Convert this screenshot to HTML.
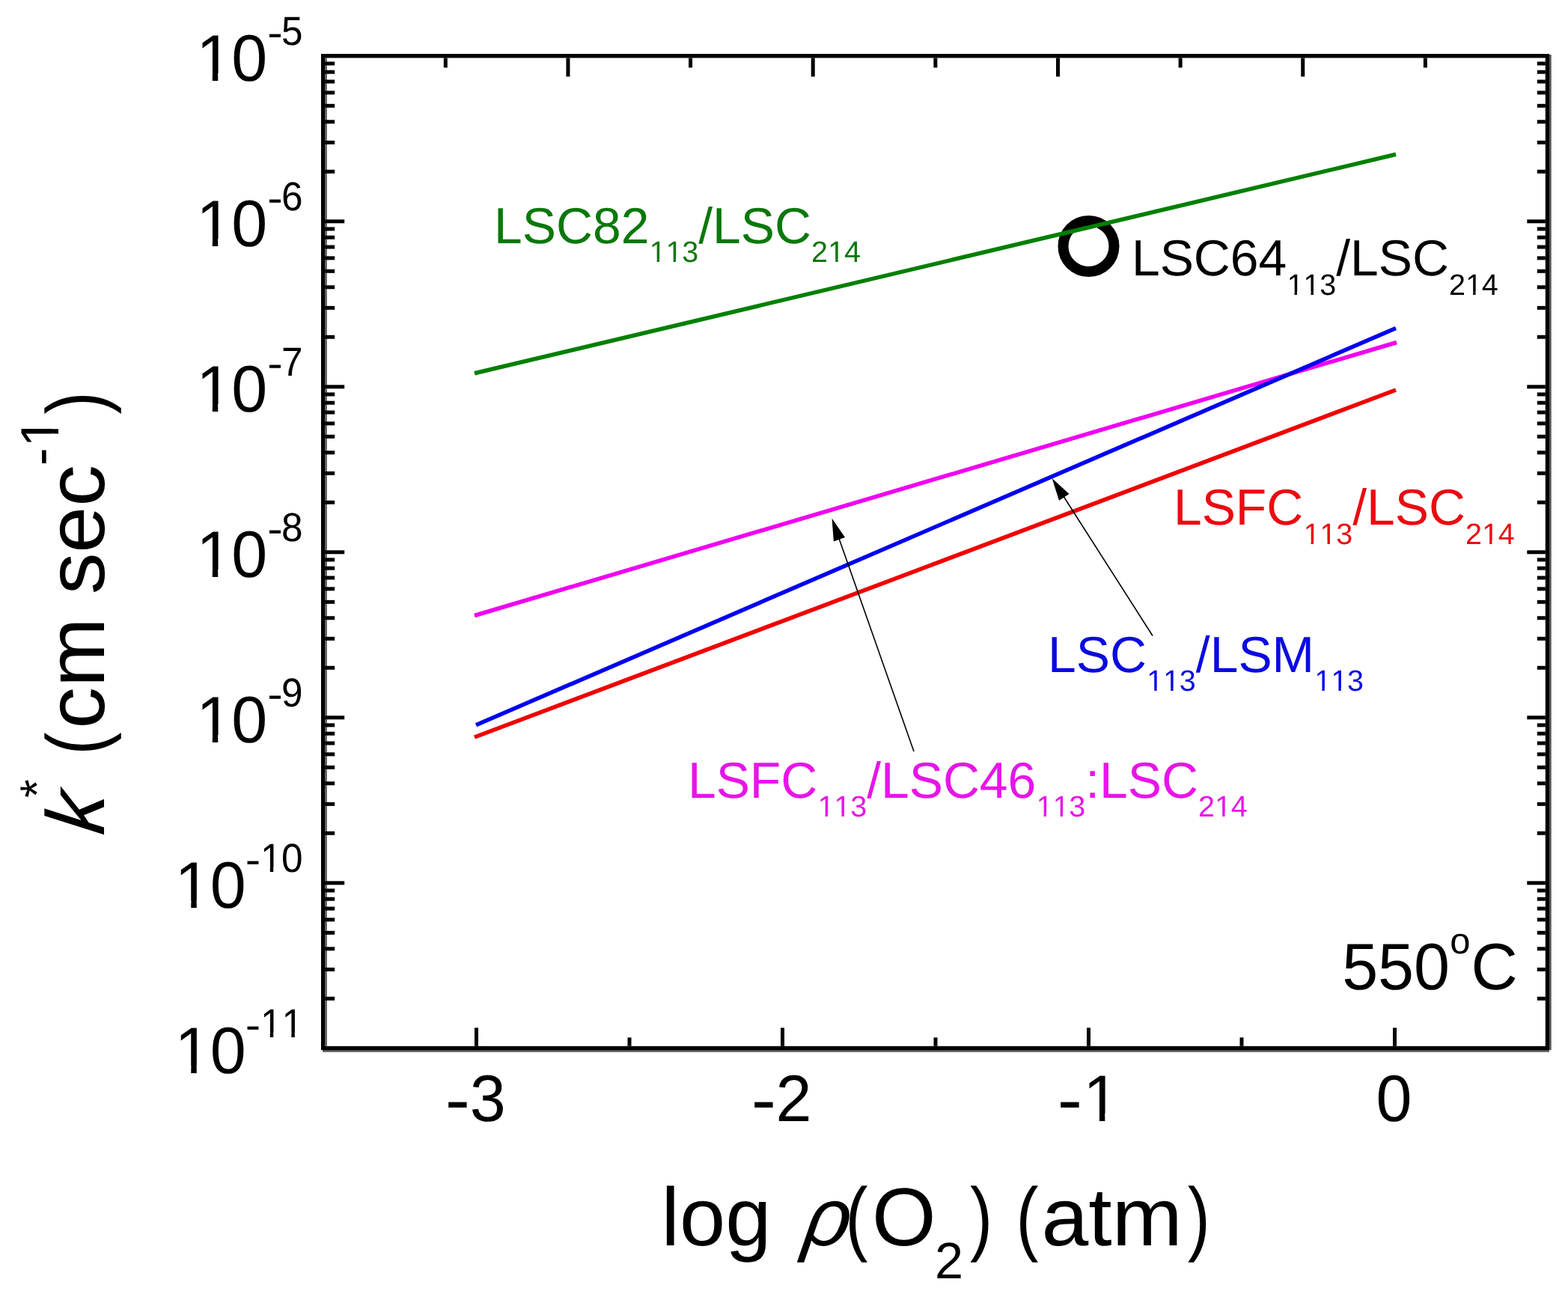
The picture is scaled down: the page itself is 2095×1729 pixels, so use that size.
<!DOCTYPE html>
<html><head><meta charset="utf-8"><title>k* vs log p(O2)</title>
<style>html,body{margin:0;padding:0;background:#fff;overflow:hidden}svg{display:block}text{text-rendering:geometricPrecision}</style>
</head><body>
<svg width="2095" height="1729" viewBox="0 0 2095 1729">
<rect width="2095" height="1729" fill="#fff"/>
<g fill="#000">
<rect x="429.0" y="72.0" width="5.2" height="1331.0"/>
<rect x="2064.8" y="72.0" width="5.2" height="1331.0"/>
<rect x="429.0" y="72.0" width="1641.0" height="5.4"/>
<rect x="429.0" y="1397.8" width="1641.0" height="5.2"/>
</g>
<g fill="#555555">
<rect x="434.2" y="77.4" width="2.6" height="1320.4"/>
<rect x="2070.0" y="73.0" width="2.7" height="1330.0"/>
<rect x="431.0" y="1403.0" width="1639.0" height="2.7"/>
</g>
<g stroke="#000" stroke-width="5.0" fill="none">
<line x1="434.20" y1="1334.27" x2="447.20" y2="1334.27"/>
<line x1="2064.80" y1="1334.27" x2="2053.80" y2="1334.27"/>
<line x1="434.20" y1="1295.36" x2="447.20" y2="1295.36"/>
<line x1="2064.80" y1="1295.36" x2="2053.80" y2="1295.36"/>
<line x1="434.20" y1="1267.74" x2="447.20" y2="1267.74"/>
<line x1="2064.80" y1="1267.74" x2="2053.80" y2="1267.74"/>
<line x1="434.20" y1="1246.33" x2="447.20" y2="1246.33"/>
<line x1="2064.80" y1="1246.33" x2="2053.80" y2="1246.33"/>
<line x1="434.20" y1="1228.83" x2="447.20" y2="1228.83"/>
<line x1="2064.80" y1="1228.83" x2="2053.80" y2="1228.83"/>
<line x1="434.20" y1="1214.03" x2="447.20" y2="1214.03"/>
<line x1="2064.80" y1="1214.03" x2="2053.80" y2="1214.03"/>
<line x1="434.20" y1="1201.22" x2="447.20" y2="1201.22"/>
<line x1="2064.80" y1="1201.22" x2="2053.80" y2="1201.22"/>
<line x1="434.20" y1="1189.91" x2="447.20" y2="1189.91"/>
<line x1="2064.80" y1="1189.91" x2="2053.80" y2="1189.91"/>
<line x1="434.20" y1="1179.80" x2="460.20" y2="1179.80"/>
<line x1="2064.80" y1="1179.80" x2="2040.30" y2="1179.80"/>
<line x1="434.20" y1="1113.27" x2="447.20" y2="1113.27"/>
<line x1="2064.80" y1="1113.27" x2="2053.80" y2="1113.27"/>
<line x1="434.20" y1="1074.36" x2="447.20" y2="1074.36"/>
<line x1="2064.80" y1="1074.36" x2="2053.80" y2="1074.36"/>
<line x1="434.20" y1="1046.74" x2="447.20" y2="1046.74"/>
<line x1="2064.80" y1="1046.74" x2="2053.80" y2="1046.74"/>
<line x1="434.20" y1="1025.33" x2="447.20" y2="1025.33"/>
<line x1="2064.80" y1="1025.33" x2="2053.80" y2="1025.33"/>
<line x1="434.20" y1="1007.83" x2="447.20" y2="1007.83"/>
<line x1="2064.80" y1="1007.83" x2="2053.80" y2="1007.83"/>
<line x1="434.20" y1="993.03" x2="447.20" y2="993.03"/>
<line x1="2064.80" y1="993.03" x2="2053.80" y2="993.03"/>
<line x1="434.20" y1="980.22" x2="447.20" y2="980.22"/>
<line x1="2064.80" y1="980.22" x2="2053.80" y2="980.22"/>
<line x1="434.20" y1="968.91" x2="447.20" y2="968.91"/>
<line x1="2064.80" y1="968.91" x2="2053.80" y2="968.91"/>
<line x1="434.20" y1="958.80" x2="460.20" y2="958.80"/>
<line x1="2064.80" y1="958.80" x2="2040.30" y2="958.80"/>
<line x1="434.20" y1="892.27" x2="447.20" y2="892.27"/>
<line x1="2064.80" y1="892.27" x2="2053.80" y2="892.27"/>
<line x1="434.20" y1="853.36" x2="447.20" y2="853.36"/>
<line x1="2064.80" y1="853.36" x2="2053.80" y2="853.36"/>
<line x1="434.20" y1="825.74" x2="447.20" y2="825.74"/>
<line x1="2064.80" y1="825.74" x2="2053.80" y2="825.74"/>
<line x1="434.20" y1="804.33" x2="447.20" y2="804.33"/>
<line x1="2064.80" y1="804.33" x2="2053.80" y2="804.33"/>
<line x1="434.20" y1="786.83" x2="447.20" y2="786.83"/>
<line x1="2064.80" y1="786.83" x2="2053.80" y2="786.83"/>
<line x1="434.20" y1="772.03" x2="447.20" y2="772.03"/>
<line x1="2064.80" y1="772.03" x2="2053.80" y2="772.03"/>
<line x1="434.20" y1="759.22" x2="447.20" y2="759.22"/>
<line x1="2064.80" y1="759.22" x2="2053.80" y2="759.22"/>
<line x1="434.20" y1="747.91" x2="447.20" y2="747.91"/>
<line x1="2064.80" y1="747.91" x2="2053.80" y2="747.91"/>
<line x1="434.20" y1="737.80" x2="460.20" y2="737.80"/>
<line x1="2064.80" y1="737.80" x2="2040.30" y2="737.80"/>
<line x1="434.20" y1="671.27" x2="447.20" y2="671.27"/>
<line x1="2064.80" y1="671.27" x2="2053.80" y2="671.27"/>
<line x1="434.20" y1="632.36" x2="447.20" y2="632.36"/>
<line x1="2064.80" y1="632.36" x2="2053.80" y2="632.36"/>
<line x1="434.20" y1="604.74" x2="447.20" y2="604.74"/>
<line x1="2064.80" y1="604.74" x2="2053.80" y2="604.74"/>
<line x1="434.20" y1="583.33" x2="447.20" y2="583.33"/>
<line x1="2064.80" y1="583.33" x2="2053.80" y2="583.33"/>
<line x1="434.20" y1="565.83" x2="447.20" y2="565.83"/>
<line x1="2064.80" y1="565.83" x2="2053.80" y2="565.83"/>
<line x1="434.20" y1="551.03" x2="447.20" y2="551.03"/>
<line x1="2064.80" y1="551.03" x2="2053.80" y2="551.03"/>
<line x1="434.20" y1="538.22" x2="447.20" y2="538.22"/>
<line x1="2064.80" y1="538.22" x2="2053.80" y2="538.22"/>
<line x1="434.20" y1="526.91" x2="447.20" y2="526.91"/>
<line x1="2064.80" y1="526.91" x2="2053.80" y2="526.91"/>
<line x1="434.20" y1="516.80" x2="460.20" y2="516.80"/>
<line x1="2064.80" y1="516.80" x2="2040.30" y2="516.80"/>
<line x1="434.20" y1="450.27" x2="447.20" y2="450.27"/>
<line x1="2064.80" y1="450.27" x2="2053.80" y2="450.27"/>
<line x1="434.20" y1="411.36" x2="447.20" y2="411.36"/>
<line x1="2064.80" y1="411.36" x2="2053.80" y2="411.36"/>
<line x1="434.20" y1="383.74" x2="447.20" y2="383.74"/>
<line x1="2064.80" y1="383.74" x2="2053.80" y2="383.74"/>
<line x1="434.20" y1="362.33" x2="447.20" y2="362.33"/>
<line x1="2064.80" y1="362.33" x2="2053.80" y2="362.33"/>
<line x1="434.20" y1="344.83" x2="447.20" y2="344.83"/>
<line x1="2064.80" y1="344.83" x2="2053.80" y2="344.83"/>
<line x1="434.20" y1="330.03" x2="447.20" y2="330.03"/>
<line x1="2064.80" y1="330.03" x2="2053.80" y2="330.03"/>
<line x1="434.20" y1="317.22" x2="447.20" y2="317.22"/>
<line x1="2064.80" y1="317.22" x2="2053.80" y2="317.22"/>
<line x1="434.20" y1="305.91" x2="447.20" y2="305.91"/>
<line x1="2064.80" y1="305.91" x2="2053.80" y2="305.91"/>
<line x1="434.20" y1="295.80" x2="460.20" y2="295.80"/>
<line x1="2064.80" y1="295.80" x2="2040.30" y2="295.80"/>
<line x1="434.20" y1="229.27" x2="447.20" y2="229.27"/>
<line x1="2064.80" y1="229.27" x2="2053.80" y2="229.27"/>
<line x1="434.20" y1="190.36" x2="447.20" y2="190.36"/>
<line x1="2064.80" y1="190.36" x2="2053.80" y2="190.36"/>
<line x1="434.20" y1="162.74" x2="447.20" y2="162.74"/>
<line x1="2064.80" y1="162.74" x2="2053.80" y2="162.74"/>
<line x1="434.20" y1="141.33" x2="447.20" y2="141.33"/>
<line x1="2064.80" y1="141.33" x2="2053.80" y2="141.33"/>
<line x1="434.20" y1="123.83" x2="447.20" y2="123.83"/>
<line x1="2064.80" y1="123.83" x2="2053.80" y2="123.83"/>
<line x1="434.20" y1="109.03" x2="447.20" y2="109.03"/>
<line x1="2064.80" y1="109.03" x2="2053.80" y2="109.03"/>
<line x1="434.20" y1="96.22" x2="447.20" y2="96.22"/>
<line x1="2064.80" y1="96.22" x2="2053.80" y2="96.22"/>
<line x1="434.20" y1="84.91" x2="447.20" y2="84.91"/>
<line x1="2064.80" y1="84.91" x2="2053.80" y2="84.91"/>
<line x1="636.50" y1="1397.80" x2="636.50" y2="1373.30"/>
<line x1="1045.50" y1="1397.80" x2="1045.50" y2="1373.30"/>
<line x1="1454.50" y1="1397.80" x2="1454.50" y2="1373.30"/>
<line x1="1863.50" y1="1397.80" x2="1863.50" y2="1373.30"/>
<line x1="841.00" y1="1397.80" x2="841.00" y2="1386.30"/>
<line x1="1250.00" y1="1397.80" x2="1250.00" y2="1386.30"/>
<line x1="1659.00" y1="1397.80" x2="1659.00" y2="1386.30"/>
<line x1="595.33" y1="77.40" x2="595.33" y2="90.40"/>
<line x1="758.96" y1="77.40" x2="758.96" y2="102.40"/>
<line x1="922.59" y1="77.40" x2="922.59" y2="90.40"/>
<line x1="1086.22" y1="77.40" x2="1086.22" y2="102.40"/>
<line x1="1249.85" y1="77.40" x2="1249.85" y2="90.40"/>
<line x1="1413.48" y1="77.40" x2="1413.48" y2="102.40"/>
<line x1="1577.11" y1="77.40" x2="1577.11" y2="90.40"/>
<line x1="1740.74" y1="77.40" x2="1740.74" y2="102.40"/>
<line x1="1904.37" y1="77.40" x2="1904.37" y2="90.40"/>
</g>
<g font-family='"Liberation Sans", Arial, sans-serif' style="font-kerning:none">
<g transform="translate(232.78,1433.80) scale(0.9800,1)" fill="#000"><text clip-path="url(#c0)"><tspan x="0.86" y="0.00" font-size="88.00">1</tspan><tspan x="48.94" y="0.00" font-size="88.00">0</tspan></text></g>
<text transform="translate(338.10,1373.80) scale(1.1400,1.0000)" fill="#000" font-size="54.00"><tspan x="-8.99" y="14.34">-</tspan></text>
<g transform="translate(347.44,1386.10) scale(0.9500,1)" fill="#000"><text clip-path="url(#c1)"><tspan x="0.53" y="0.00" font-size="54.00">1</tspan><tspan x="30.56" y="0.00" font-size="54.00">1</tspan></text></g>
<g transform="translate(232.78,1212.80) scale(0.9800,1)" fill="#000"><text clip-path="url(#c2)"><tspan x="0.86" y="0.00" font-size="88.00">1</tspan><tspan x="48.94" y="0.00" font-size="88.00">0</tspan></text></g>
<text transform="translate(338.10,1152.80) scale(1.1400,1.0000)" fill="#000" font-size="54.00"><tspan x="-8.99" y="14.34">-</tspan></text>
<g transform="translate(347.44,1165.10) scale(0.9500,1)" fill="#000"><text clip-path="url(#c3)"><tspan x="0.53" y="0.00" font-size="54.00">1</tspan><tspan x="30.03" y="0.00" font-size="54.00">0</tspan></text></g>
<g transform="translate(261.31,991.80) scale(0.9800,1)" fill="#000"><text clip-path="url(#c4)"><tspan x="0.86" y="0.00" font-size="88.00">1</tspan><tspan x="48.94" y="0.00" font-size="88.00">0</tspan></text></g>
<text transform="translate(367.43,931.80) scale(1.1400,1.0000)" fill="#000" font-size="54.00"><tspan x="-8.99" y="14.34">-</tspan></text>
<g transform="translate(375.97,944.10) scale(0.9500,1)" fill="#000"><text><tspan x="0.00" y="0.00" font-size="54.00">9</tspan></text></g>
<g transform="translate(261.31,770.80) scale(0.9800,1)" fill="#000"><text clip-path="url(#c5)"><tspan x="0.86" y="0.00" font-size="88.00">1</tspan><tspan x="48.94" y="0.00" font-size="88.00">0</tspan></text></g>
<text transform="translate(367.43,710.80) scale(1.1400,1.0000)" fill="#000" font-size="54.00"><tspan x="-8.99" y="14.34">-</tspan></text>
<g transform="translate(375.97,723.10) scale(0.9500,1)" fill="#000"><text><tspan x="0.00" y="0.00" font-size="54.00">8</tspan></text></g>
<g transform="translate(261.31,549.80) scale(0.9800,1)" fill="#000"><text clip-path="url(#c6)"><tspan x="0.86" y="0.00" font-size="88.00">1</tspan><tspan x="48.94" y="0.00" font-size="88.00">0</tspan></text></g>
<text transform="translate(367.43,489.80) scale(1.1400,1.0000)" fill="#000" font-size="54.00"><tspan x="-8.99" y="14.34">-</tspan></text>
<g transform="translate(375.97,502.10) scale(0.9500,1)" fill="#000"><text><tspan x="0.00" y="0.00" font-size="54.00">7</tspan></text></g>
<g transform="translate(261.31,328.80) scale(0.9800,1)" fill="#000"><text clip-path="url(#c7)"><tspan x="0.86" y="0.00" font-size="88.00">1</tspan><tspan x="48.94" y="0.00" font-size="88.00">0</tspan></text></g>
<text transform="translate(367.43,268.80) scale(1.1400,1.0000)" fill="#000" font-size="54.00"><tspan x="-8.99" y="14.34">-</tspan></text>
<g transform="translate(375.97,281.10) scale(0.9500,1)" fill="#000"><text><tspan x="0.00" y="0.00" font-size="54.00">6</tspan></text></g>
<g transform="translate(261.31,107.80) scale(0.9800,1)" fill="#000"><text clip-path="url(#c8)"><tspan x="0.86" y="0.00" font-size="88.00">1</tspan><tspan x="48.94" y="0.00" font-size="88.00">0</tspan></text></g>
<text transform="translate(367.43,47.80) scale(1.1400,1.0000)" fill="#000" font-size="54.00"><tspan x="-8.99" y="14.34">-</tspan></text>
<g transform="translate(375.97,60.10) scale(0.9500,1)" fill="#000"><text><tspan x="0.00" y="0.00" font-size="54.00">5</tspan></text></g>
<text transform="translate(611.50,1476.00) scale(1.1368,1.0600)" fill="#000" font-size="88.00"><tspan x="-14.65" y="23.38">-</tspan></text>
<g transform="translate(627.77,1497.60) scale(0.9800,1)" fill="#000"><text><tspan x="0.00" y="0.00" font-size="88.00">3</tspan></text></g>
<text transform="translate(1020.50,1476.00) scale(1.1368,1.0600)" fill="#000" font-size="88.00"><tspan x="-14.65" y="23.38">-</tspan></text>
<g transform="translate(1036.52,1497.60) scale(0.9800,1)" fill="#000"><text><tspan x="0.00" y="0.00" font-size="88.00">2</tspan></text></g>
<text transform="translate(1429.50,1476.00) scale(1.1368,1.0600)" fill="#000" font-size="88.00"><tspan x="-14.65" y="23.38">-</tspan></text>
<g transform="translate(1446.38,1497.60) scale(0.9800,1)" fill="#000"><text clip-path="url(#c9)"><tspan x="0.86" y="0.00" font-size="88.00">1</tspan></text></g>
<g transform="translate(1838.52,1497.60) scale(0.9800,1)" fill="#000"><text><tspan x="0.00" y="0.00" font-size="88.00">0</tspan></text></g>
</g>
<g font-family='"Liberation Sans", Arial, sans-serif' style="font-kerning:none">
<g transform="translate(883.59,1664.30)" fill="#000"><text><tspan x="0.00" y="0.00" font-size="110.00">log</tspan></text></g>
<text transform="translate(1071.00,1664.30) skewX(-9) scale(0.970,1)" font-size="110.00" font-style="italic"><tspan x="0" y="0">ρ</tspan></text>
<text transform="translate(1147.05,1664.30) scale(0.820,1)" font-size="110.00"><tspan x="-21.40" y="0">(</tspan></text>
<g transform="translate(1164.89,1664.30)" fill="#000"><text><tspan x="0.00" y="0.00" font-size="110.00">O</tspan></text></g>
<g transform="translate(1249.06,1708.40)" fill="#000"><text><tspan x="0.00" y="0.00" font-size="68.40">2</tspan></text></g>
<text transform="translate(1308.50,1664.30) scale(0.820,1)" font-size="110.00"><tspan x="-15.23" y="0">)</tspan></text>
<text transform="translate(1375.10,1664.30) scale(0.820,1)" font-size="110.00"><tspan x="-21.40" y="0">(</tspan></text>
<g transform="translate(1391.51,1664.30) scale(1.0260,1)" fill="#000"><text><tspan x="0.00" y="0.00" font-size="110.00">atm</tspan></text></g>
<text transform="translate(1599.20,1664.30) scale(0.820,1)" font-size="110.00"><tspan x="-15.23" y="0">)</tspan></text>
</g>
<g font-family='"Liberation Sans", Arial, sans-serif' style="font-kerning:none" transform="translate(138.5,1117.0) rotate(-90)">
<g transform="skewX(-7)"><g transform="translate(0.00,0.00)" fill="#000"><text><tspan x="0.00" y="0.00" font-size="110.00" font-style="italic">k</tspan></text></g></g>
<g transform="translate(51.00,-67.50)" fill="#000"><text><tspan x="0.00" y="0.00" font-size="63.36">*</tspan></text></g>
<text transform="translate(126.10,0.00) scale(0.820,1)" font-size="110.00"><tspan x="-21.40" y="0">(</tspan></text>
<g transform="translate(143.37,0.00) scale(1.0120,1)" fill="#000"><text><tspan x="0.00" y="0.00" font-size="110.00">cm sec</tspan></text></g>
<g transform="translate(494.71,-61.00)" fill="#000"><text clip-path="url(#c10)"><tspan x="0.00" y="0.00" font-size="72.00">-</tspan><tspan x="24.68" y="0.00" font-size="72.00">1</tspan></text></g>
<text transform="translate(576.10,0.00) scale(0.820,1)" font-size="110.00"><tspan x="-15.23" y="0">)</tspan></text>
</g>
<circle cx="1454.5" cy="328.9" r="34" fill="none" stroke="#000" stroke-width="14"/>
<line x1="634.0" y1="822.5" x2="1866.0" y2="457.5" stroke="#f000f0" stroke-width="5.5"/>
<line x1="634.0" y1="985.0" x2="1865.0" y2="521.0" stroke="#f00000" stroke-width="5.5"/>
<line x1="636.0" y1="968.8" x2="1865.0" y2="438.5" stroke="#0000f0" stroke-width="5.5"/>
<line x1="634.0" y1="498.8" x2="1865.0" y2="206.3" stroke="#008000" stroke-width="5.5"/>
<line x1="1221.0" y1="1004.0" x2="1120.8" y2="718.9" stroke="#000" stroke-width="1.6"/>
<polygon points="1111.5,692.5 1129.0,718.1 1113.9,723.5" fill="#000"/>
<line x1="1540.0" y1="849.5" x2="1420.7" y2="662.7" stroke="#000" stroke-width="1.6"/>
<polygon points="1405.6,639.1 1428.5,660.1 1415.0,668.7" fill="#000"/>
<g font-family='"Liberation Sans", Arial, sans-serif' style="font-kerning:none">
<g transform="translate(660.04,324.70)" fill="#0a780a"><text clip-path="url(#c11)"><tspan x="0.00" y="0.00" font-size="67.80">LSC82</tspan><tspan x="207.69" y="25.50" font-size="39.50">1</tspan><tspan x="229.66" y="25.50" font-size="39.50">1</tspan><tspan x="251.24" y="25.50" font-size="39.50">3</tspan><tspan x="273.21" y="0.00" font-size="67.80">/LSC</tspan><tspan x="423.94" y="25.50" font-size="39.50">2</tspan><tspan x="446.29" y="25.50" font-size="39.50">1</tspan><tspan x="467.88" y="25.50" font-size="39.50">4</tspan></text></g>
<g transform="translate(1511.94,368.40)" fill="#000"><text clip-path="url(#c12)"><tspan x="0.00" y="0.00" font-size="67.80">LSC64</tspan><tspan x="207.69" y="25.50" font-size="39.50">1</tspan><tspan x="229.66" y="25.50" font-size="39.50">1</tspan><tspan x="251.24" y="25.50" font-size="39.50">3</tspan><tspan x="273.21" y="0.00" font-size="67.80">/LSC</tspan><tspan x="423.94" y="25.50" font-size="39.50">2</tspan><tspan x="446.29" y="25.50" font-size="39.50">1</tspan><tspan x="467.88" y="25.50" font-size="39.50">4</tspan></text></g>
<g transform="translate(1567.94,701.20)" fill="#ea0a12"><text clip-path="url(#c13)"><tspan x="0.00" y="0.00" font-size="67.80">LSFC</tspan><tspan x="173.69" y="25.50" font-size="39.50">1</tspan><tspan x="195.66" y="25.50" font-size="39.50">1</tspan><tspan x="217.24" y="25.50" font-size="39.50">3</tspan><tspan x="239.21" y="0.00" font-size="67.80">/LSC</tspan><tspan x="389.94" y="25.50" font-size="39.50">2</tspan><tspan x="412.29" y="25.50" font-size="39.50">1</tspan><tspan x="433.88" y="25.50" font-size="39.50">4</tspan></text></g>
<g transform="translate(1400.04,897.90)" fill="#0a0ae0"><text clip-path="url(#c14)"><tspan x="0.00" y="0.00" font-size="67.80">LSC</tspan><tspan x="132.28" y="25.50" font-size="39.50">1</tspan><tspan x="154.25" y="25.50" font-size="39.50">1</tspan><tspan x="175.83" y="25.50" font-size="39.50">3</tspan><tspan x="197.80" y="0.00" font-size="67.80">/LSM</tspan><tspan x="356.43" y="25.50" font-size="39.50">1</tspan><tspan x="378.39" y="25.50" font-size="39.50">1</tspan><tspan x="399.98" y="25.50" font-size="39.50">3</tspan></text></g>
<g transform="translate(918.94,1065.70)" fill="#e814e8"><text clip-path="url(#c15)"><tspan x="0.00" y="0.00" font-size="67.80">LSFC</tspan><tspan x="173.69" y="25.50" font-size="39.50">1</tspan><tspan x="195.66" y="25.50" font-size="39.50">1</tspan><tspan x="217.24" y="25.50" font-size="39.50">3</tspan><tspan x="239.21" y="0.00" font-size="67.80">/LSC46</tspan><tspan x="465.74" y="25.50" font-size="39.50">1</tspan><tspan x="487.71" y="25.50" font-size="39.50">1</tspan><tspan x="509.29" y="25.50" font-size="39.50">3</tspan><tspan x="531.26" y="0.00" font-size="67.80">:LSC</tspan><tspan x="681.99" y="25.50" font-size="39.50">2</tspan><tspan x="704.34" y="25.50" font-size="39.50">1</tspan><tspan x="725.92" y="25.50" font-size="39.50">4</tspan></text></g>
<g transform="translate(1793.15,1322.00) scale(0.9800,1)" fill="#000"><text><tspan x="0.00" y="0.00" font-size="88.00">550</tspan></text></g>
<g transform="translate(1937.24,1274.10)" fill="#000"><text><tspan x="0.00" y="0.00" font-size="49.00">o</tspan></text></g>
<g transform="translate(1965.42,1322.00) scale(0.9800,1)" fill="#000"><text><tspan x="0.00" y="0.00" font-size="88.00">C</tspan></text></g>
</g>
<defs><clipPath id="c0" clipPathUnits="userSpaceOnUse"><path clip-rule="evenodd" d="M-3000,-3000H3000V3000H-3000ZM6.02,-9.88H22.95V2.58H6.02ZM30.55,-9.88H46.84V2.58H30.55Z"/></clipPath><clipPath id="c1" clipPathUnits="userSpaceOnUse"><path clip-rule="evenodd" d="M-3000,-3000H3000V3000H-3000ZM3.69,-6.06H14.08V1.58H3.69ZM18.75,-6.06H28.74V1.58H18.75ZM33.72,-6.06H44.11V1.58H33.72ZM48.78,-6.06H58.77V1.58H48.78Z"/></clipPath><clipPath id="c2" clipPathUnits="userSpaceOnUse"><path clip-rule="evenodd" d="M-3000,-3000H3000V3000H-3000ZM6.02,-9.88H22.95V2.58H6.02ZM30.55,-9.88H46.84V2.58H30.55Z"/></clipPath><clipPath id="c3" clipPathUnits="userSpaceOnUse"><path clip-rule="evenodd" d="M-3000,-3000H3000V3000H-3000ZM3.69,-6.06H14.08V1.58H3.69ZM18.75,-6.06H28.74V1.58H18.75Z"/></clipPath><clipPath id="c4" clipPathUnits="userSpaceOnUse"><path clip-rule="evenodd" d="M-3000,-3000H3000V3000H-3000ZM6.02,-9.88H22.95V2.58H6.02ZM30.55,-9.88H46.84V2.58H30.55Z"/></clipPath><clipPath id="c5" clipPathUnits="userSpaceOnUse"><path clip-rule="evenodd" d="M-3000,-3000H3000V3000H-3000ZM6.02,-9.88H22.95V2.58H6.02ZM30.55,-9.88H46.84V2.58H30.55Z"/></clipPath><clipPath id="c6" clipPathUnits="userSpaceOnUse"><path clip-rule="evenodd" d="M-3000,-3000H3000V3000H-3000ZM6.02,-9.88H22.95V2.58H6.02ZM30.55,-9.88H46.84V2.58H30.55Z"/></clipPath><clipPath id="c7" clipPathUnits="userSpaceOnUse"><path clip-rule="evenodd" d="M-3000,-3000H3000V3000H-3000ZM6.02,-9.88H22.95V2.58H6.02ZM30.55,-9.88H46.84V2.58H30.55Z"/></clipPath><clipPath id="c8" clipPathUnits="userSpaceOnUse"><path clip-rule="evenodd" d="M-3000,-3000H3000V3000H-3000ZM6.02,-9.88H22.95V2.58H6.02ZM30.55,-9.88H46.84V2.58H30.55Z"/></clipPath><clipPath id="c9" clipPathUnits="userSpaceOnUse"><path clip-rule="evenodd" d="M-3000,-3000H3000V3000H-3000ZM6.02,-9.88H22.95V2.58H6.02ZM30.55,-9.88H46.84V2.58H30.55Z"/></clipPath><clipPath id="c10" clipPathUnits="userSpaceOnUse"><path clip-rule="evenodd" d="M-3000,-3000H3000V3000H-3000ZM28.90,-8.09H42.75V2.11H28.90ZM48.97,-8.09H62.30V2.11H48.97Z"/></clipPath><clipPath id="c11" clipPathUnits="userSpaceOnUse"><path clip-rule="evenodd" d="M-3000,-3000H3000V3000H-3000ZM210.01,21.06H217.61V26.66H210.01ZM221.02,21.06H228.33V26.66H221.02ZM231.97,21.06H239.57V26.66H231.97ZM242.99,21.06H250.30V26.66H242.99ZM448.61,21.06H456.21V26.66H448.61ZM459.62,21.06H466.93V26.66H459.62Z"/></clipPath><clipPath id="c12" clipPathUnits="userSpaceOnUse"><path clip-rule="evenodd" d="M-3000,-3000H3000V3000H-3000ZM210.01,21.06H217.61V26.66H210.01ZM221.02,21.06H228.33V26.66H221.02ZM231.97,21.06H239.57V26.66H231.97ZM242.99,21.06H250.30V26.66H242.99ZM448.61,21.06H456.21V26.66H448.61ZM459.62,21.06H466.93V26.66H459.62Z"/></clipPath><clipPath id="c13" clipPathUnits="userSpaceOnUse"><path clip-rule="evenodd" d="M-3000,-3000H3000V3000H-3000ZM176.01,21.06H183.61V26.66H176.01ZM187.02,21.06H194.33V26.66H187.02ZM197.98,21.06H205.57V26.66H197.98ZM208.99,21.06H216.30V26.66H208.99ZM414.61,21.06H422.21V26.66H414.61ZM425.62,21.06H432.93V26.66H425.62Z"/></clipPath><clipPath id="c14" clipPathUnits="userSpaceOnUse"><path clip-rule="evenodd" d="M-3000,-3000H3000V3000H-3000ZM134.59,21.06H142.19V26.66H134.59ZM145.61,21.06H152.92V26.66H145.61ZM156.56,21.06H164.16V26.66H156.56ZM167.57,21.06H174.88V26.66H167.57ZM358.74,21.06H366.34V26.66H358.74ZM369.75,21.06H377.06V26.66H369.75ZM380.71,21.06H388.31V26.66H380.71ZM391.72,21.06H399.03V26.66H391.72Z"/></clipPath><clipPath id="c15" clipPathUnits="userSpaceOnUse"><path clip-rule="evenodd" d="M-3000,-3000H3000V3000H-3000ZM176.01,21.06H183.61V26.66H176.01ZM187.02,21.06H194.33V26.66H187.02ZM197.98,21.06H205.57V26.66H197.98ZM208.99,21.06H216.30V26.66H208.99ZM468.05,21.06H475.65V26.66H468.05ZM479.07,21.06H486.38V26.66H479.07ZM490.02,21.06H497.62V26.66H490.02ZM501.04,21.06H508.35V26.66H501.04ZM706.66,21.06H714.26V26.66H706.66ZM717.67,21.06H724.98V26.66H717.67Z"/></clipPath></defs>
</svg>
</body></html>
